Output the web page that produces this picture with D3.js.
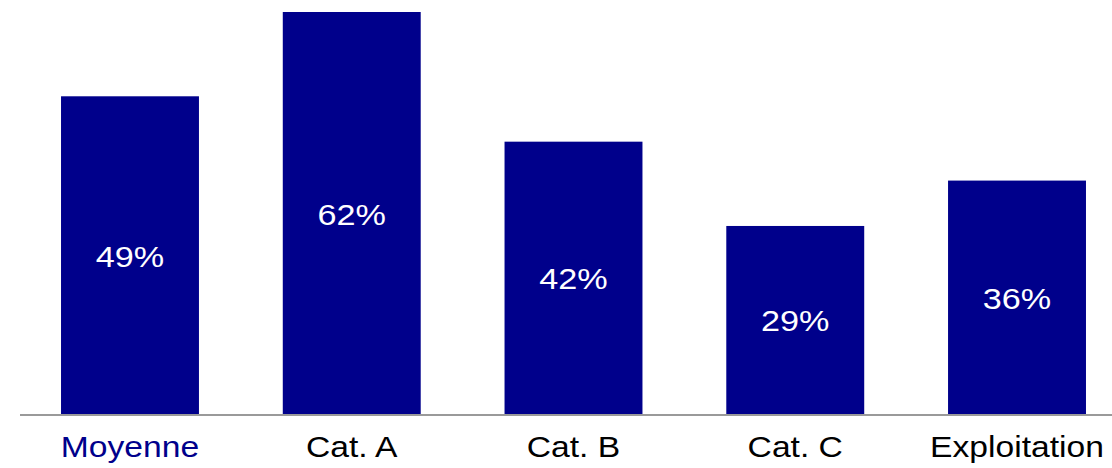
<!DOCTYPE html>
<html>
<head>
<meta charset="utf-8">
<script src="https://cdn.jsdelivr.net/npm/d3@7"></script>
<style>
  html, body { margin: 0; padding: 0; background: #fff; }
  svg { display: block; }
  text { font-family: "Liberation Sans", Arial, Helvetica, sans-serif; }
</style>
</head>
<body>
<svg id="chart" width="1112" height="468"></svg>
<script>
const categories = ["Moyenne", "Cat. A", "Cat. B", "Cat. C", "Exploitation"];
const values = [0.49, 0.62, 0.42, 0.29, 0.36];
const labelColors = ["#00008B", "#000000", "#000000", "#000000", "#000000"];

const W = 1112, H = 468;
const baseY = 414, topY = 12;
const svg = d3.select("#chart");

const x = d3.scaleBand()
  .domain(categories)
  .range([20, 1127])
  .paddingInner(0.378)
  .paddingOuter(0.185);

const y = d3.scaleLinear()
  .domain([0, 0.62])
  .range([baseY, topY]);

const fmt = d3.format(".0%");
const data = categories.map((c, i) => ({ c, v: values[i], col: labelColors[i] }));

svg.selectAll("rect.bar")
  .data(data)
  .join("rect")
  .attr("class", "bar")
  .attr("x", d => x(d.c))
  .attr("y", d => y(d.v))
  .attr("width", x.bandwidth())
  .attr("height", d => y(0) - y(d.v))
  .attr("fill", "#00008B");

// baseline axis line
svg.append("line")
  .attr("x1", 20).attr("x2", W)
  .attr("y1", baseY + 1).attr("y2", baseY + 1)
  .attr("stroke", "#9a9a9a")
  .attr("stroke-width", 2);

const sx = 1.14;
// value labels
svg.selectAll("text.val")
  .data(data)
  .join("text")
  .attr("class", "val")
  .attr("transform", d => {
    const cx = x(d.c) + x.bandwidth() / 2;
    const cy = (y(d.v) + y(0)) / 2 + 11.5;
    return `translate(${cx},${cy}) scale(${sx},1)`;
  })
  .attr("text-anchor", "middle")
  .attr("fill", "#ffffff")
  .attr("font-size", 30)
  .text(d => fmt(d.v));

// category labels
svg.selectAll("text.cat")
  .data(data)
  .join("text")
  .attr("class", "cat")
  .attr("transform", d => {
    const cx = x(d.c) + x.bandwidth() / 2;
    return `translate(${cx},${457}) scale(${sx},1)`;
  })
  .attr("text-anchor", "middle")
  .attr("fill", d => d.col)
  .attr("font-size", 29.5)
  .text(d => d.c);
</script>
</body>
</html>
